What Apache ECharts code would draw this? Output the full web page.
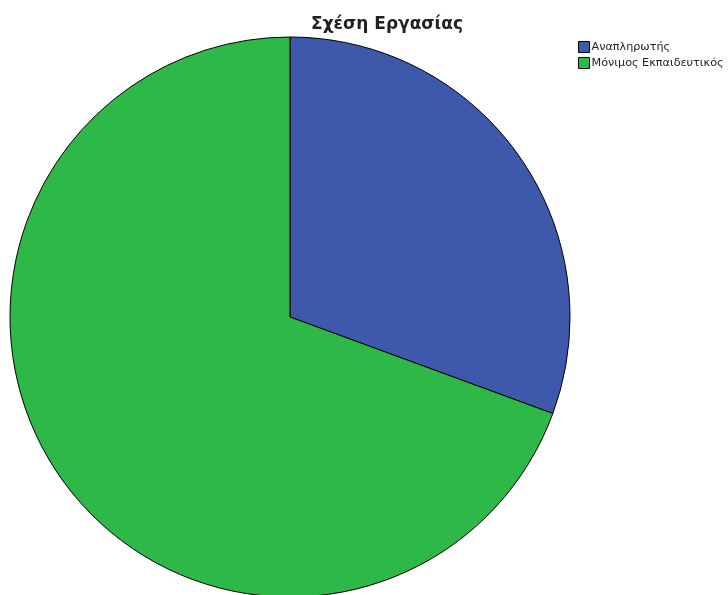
<!DOCTYPE html>
<html><head><meta charset="utf-8">
<script src="https://cdn.jsdelivr.net/npm/echarts@6/dist/echarts.min.js"></script>
<style>html,body{margin:0;padding:0;background:#fff}#c{width:728px;height:595px}</style>
</head><body><div id="c"></div>
<script>
const categories = ['Αναπληρωτής', 'Μόνιμος Εκπαιδευτικός'];
const values = [30.6, 69.4];
const colors = ['#3e58ac', '#2eb848'];
const chart = echarts.init(document.getElementById('c'), null, {renderer: 'canvas'});
chart.setOption({
  animation: false,
  backgroundColor: '#fff',
  title: {
    text: 'Σχέση Εργασίας', left: 382, top: 11, textAlign: 'center',
    textStyle: {fontFamily: 'DejaVu Sans', fontSize: 17, fontWeight: 'bold', color: '#222'}
  },
  legend: {
    orient: 'vertical', left: 573, top: 36, itemWidth: 11, itemHeight: 11, itemGap: 4,
    icon: 'rect',
    textStyle: {fontFamily: 'DejaVu Sans', fontSize: 11.2, color: '#222', padding: [0,0,0,-3]},
    itemStyle: {borderColor: '#000', borderWidth: 1},
    data: categories
  },
  series: [{
    type: 'pie', center: [290, 317], radius: 280, startAngle: 90, clockwise: true,
    label: {show: false}, labelLine: {show: false},
    itemStyle: {borderColor: '#000', borderWidth: 1},
    emphasis: {disabled: true},
    data: categories.map((c, i) => ({name: c, value: values[i], itemStyle: {color: colors[i]}}))
  }]
});
</script></body></html>
